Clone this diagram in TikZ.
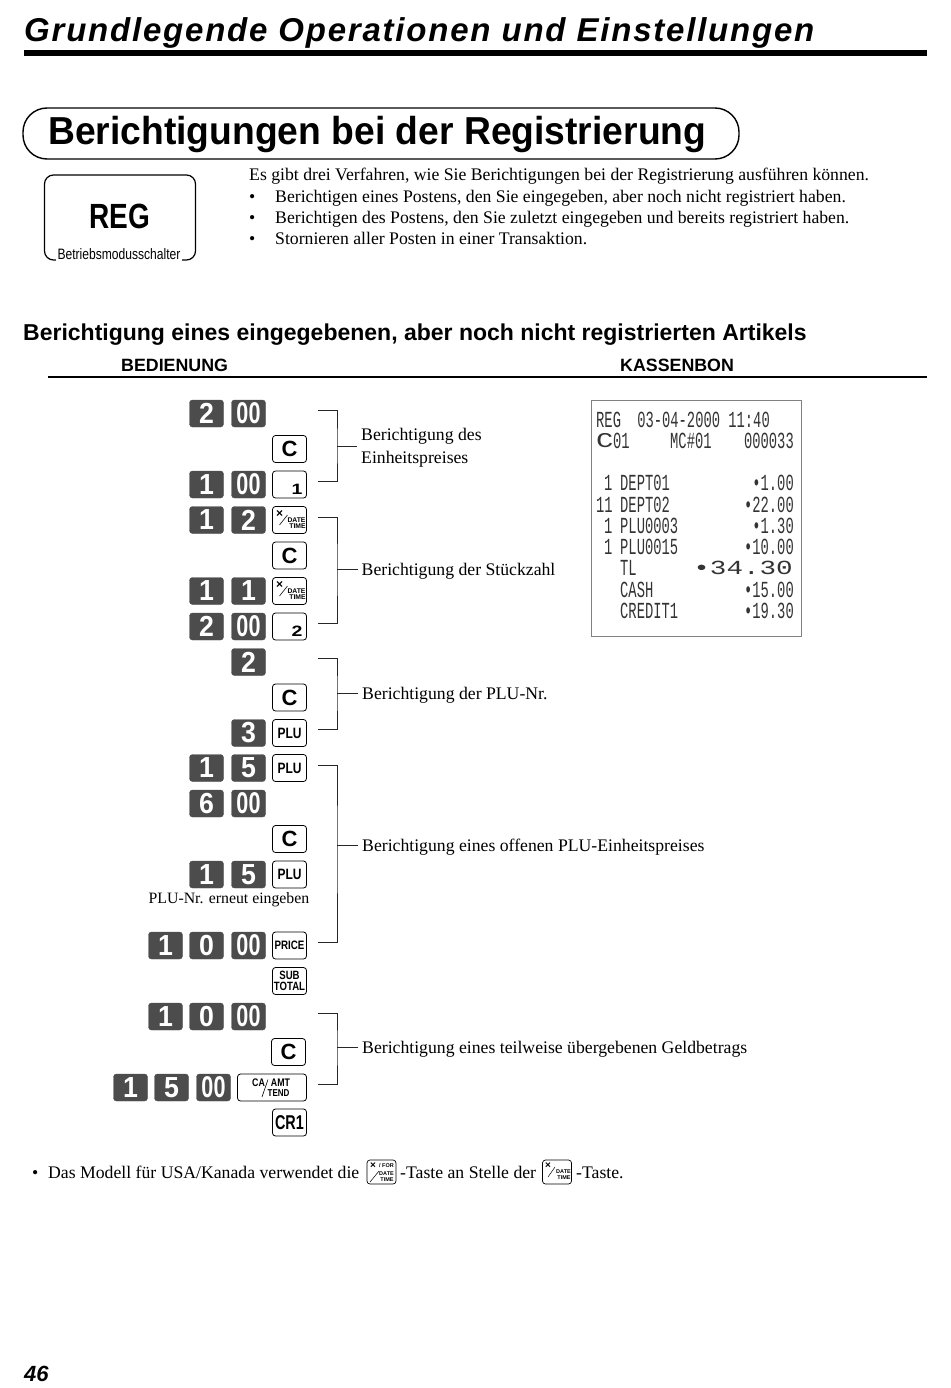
\documentclass[tikz,border=0pt]{standalone}
\usepackage{fontspec}
\setmainfont{Liberation Serif}
\setsansfont{Liberation Sans}
\usetikzlibrary{calc}
\newfontfamily\headfont[LetterSpace=5.4]{Liberation Sans}
\newfontfamily\titlefont[FakeStretch=0.955]{Liberation Sans}
\newfontfamily\digitfont[FakeStretch=0.92]{Liberation Sans}
\newfontfamily\narrowfont[FakeStretch=0.8]{Liberation Sans}
\newfontfamily\zerofont[FakeStretch=0.72]{Liberation Sans}
\newfontfamily\widefont[FakeStretch=1.3]{Liberation Sans}
\newfontfamily\slipfont[FakeStretch=0.6]{Liberation Mono}
\newfontfamily\slipwide[FakeStretch=1.38]{Liberation Mono}
\newcommand{\px}[1]{\fontsize{#1}{#1}\selectfont}
\definecolor{keydark}{gray}{0.30}
\definecolor{brack}{gray}{0.50}
\definecolor{slipink}{gray}{0.20}
\tikzset{
  numkey/.style={fill=keydark, draw=keydark, rounded corners=3pt, minimum width=34pt, minimum height=27pt,
                 inner sep=0pt, text=white, font=\digitfont\bfseries\px{29}},
  zerokey/.style={numkey, font=\zerofont\bfseries\px{30}},
  fnkey/.style={draw=black, line width=0.8pt, fill=white, rounded corners=3pt, minimum width=34pt,
                minimum height=27pt, inner sep=0pt, align=center, font=\sffamily\bfseries\px{22}},
  bodytxt/.style={anchor=base west, inner sep=0pt, font=\rmfamily\px{17.7}},
  cmt/.style={anchor=west, inner sep=4pt, align=left, text depth=0pt, font=\rmfamily\fontsize{17.7}{23}\selectfont},
  tiny/.style={inner sep=0pt, font=\sffamily\bfseries\px{6.8}},
  brk/.style={draw={black!85}, line width=0.8pt},
  slip/.style={anchor=base west, inner sep=0pt, text=slipink, font=\slipfont\px{23}},
  slipr/.style={slip, anchor=base east},
}
% key with x / date time printed on it
\newcommand{\xdatekey}[3]{
  \node[fnkey] (#1) at (#2,#3) {};
  \node[tiny, font=\sffamily\bfseries\px{12}] (#1x) at ($(#1.center)+(-10,-6)$) {\texttimes};
  \node[tiny] (#1d) at ($(#1.center)+(7,0)$) {DATE};
  \node[tiny] (#1t) at ($(#1.center)+(8,6.5)$) {TIME};
  \draw[line width=0.6pt] ($(#1.center)+(-2,-5)$) -- ($(#1.center)+(-10,5)$);
}
\begin{document}
\begin{tikzpicture}[x=1pt,y=-1pt]
  \useasboundingbox (0,0) rectangle (950,1388);

  % page head
  \node[anchor=base west, inner sep=0pt, font=\headfont\bfseries\itshape\px{33}] (head) at (24,42)
    {Grundlegende Operationen und Einstellungen};
  \fill (24,50) rectangle (927,56);
  \node[draw=black, line width=1.4pt, rounded corners=24pt, minimum width=716pt, minimum height=51pt,
        inner sep=0pt] (pill) at (381,133.5) {};
  \node[anchor=base west, inner sep=0pt, font=\titlefont\bfseries\px{39}] (title) at (48,145)
    {Berichtigungen bei der Registrierung};

  % mode switch
  \node[draw=black, line width=1.2pt, rounded corners=9pt, minimum width=151pt, minimum height=85pt,
        inner sep=0pt] (mode) at (120,217.5) {};
  \node[font=\narrowfont\bfseries\px{35}, inner sep=0pt] (reg) at (120,216) {REG};
  \node[fill=white, inner sep=2pt, font=\narrowfont\px{15.1}] (modetxt) at (119,254) {Betriebsmodusschalter};

  % intro
  \node[bodytxt] (intro) at (249,181) {Es gibt drei Verfahren, wie Sie Berichtigungen bei der Registrierung ausführen können.};
  \node[bodytxt] (dot1) at (249,202.5) {•};
  \node[bodytxt] (dot2) at (249,223.5) {•};
  \node[bodytxt] (dot3) at (249,244.5) {•};
  \node[bodytxt] (item1) at (275,202.5) {Berichtigen eines Postens, den Sie eingegeben, aber noch nicht registriert haben.};
  \node[bodytxt] (item2) at (275,223.5) {Berichtigen des Postens, den Sie zuletzt eingegeben und bereits registriert haben.};
  \node[bodytxt] (item3) at (275,244.5) {Stornieren aller Posten in einer Transaktion.};

  % section
  \node[anchor=base west, inner sep=0pt, font=\sffamily\bfseries\px{23}] (sect) at (23,340)
    {Berichtigung eines eingegebenen, aber noch nicht registrierten Artikels};
  \node[anchor=base west, inner sep=0pt, font=\sffamily\bfseries\px{17.8}] (oper) at (121,371) {BEDIENUNG};
  \node[anchor=base west, inner sep=0pt, font=\sffamily\bfseries\px{17.8}] (bon) at (620,371) {KASSENBON};
  \draw[line width=1.2pt] (48,377) -- (927,377);

  % keys
  \node[numkey] (a1) at (206.5,413.5) {2};
  \node[zerokey] (a2) at (248.5,413.5) {00};
  \node[fnkey] (a3) at (289.5,449) {C};
  \node[numkey] (b1) at (206.5,484.5) {1};
  \node[zerokey] (b2) at (248.5,484.5) {00};
  \node[fnkey] (b3) at (289.5,484.5) {};
  \node[inner sep=0pt, font=\widefont\bfseries\px{15}] (b3t) at (297,489.5) {1};
  \node[numkey] (c1) at (206.5,520) {1};
  \node[numkey] (c2) at (248.5,520) {2};
  \xdatekey{c3}{289.5}{520}
  \node[fnkey] (d3) at (289.5,555.5) {C};
  \node[numkey] (e1) at (206.5,591) {1};
  \node[numkey] (e2) at (248.5,591) {1};
  \xdatekey{e3}{289.5}{591}
  \node[numkey] (f1) at (206.5,626.5) {2};
  \node[zerokey] (f2) at (248.5,626.5) {00};
  \node[fnkey] (f3) at (289.5,626.5) {};
  \node[inner sep=0pt, font=\widefont\bfseries\px{15}] (f3t) at (297,631.5) {2};
  \node[numkey] (g2) at (248.5,662) {2};
  \node[fnkey] (h3) at (289.5,697.5) {C};
  \node[numkey] (i2) at (248.5,733) {3};
  \node[fnkey, font=\narrowfont\bfseries\px{15}] (i3) at (289.5,733) {PLU};
  \node[numkey] (j1) at (206.5,768) {1};
  \node[numkey] (j2) at (248.5,768) {5};
  \node[fnkey, font=\narrowfont\bfseries\px{15}] (j3) at (289.5,768) {PLU};
  \node[numkey] (k1) at (206.5,803.5) {6};
  \node[zerokey] (k2) at (248.5,803.5) {00};
  \node[fnkey] (l3) at (289.5,839) {C};
  \node[numkey] (m1) at (206.5,874.5) {1};
  \node[numkey] (m2) at (248.5,874.5) {5};
  \node[fnkey, font=\narrowfont\bfseries\px{15}] (m3) at (289.5,874.5) {PLU};
  \node[font=\rmfamily\px{15.8}, inner sep=0pt] (again) at (229,900) {PLU-Nr. erneut eingeben};
  \node[numkey] (n0) at (165.5,945.5) {1};
  \node[numkey] (n1) at (206.5,945.5) {0};
  \node[zerokey] (n2) at (248.5,945.5) {00};
  \node[fnkey, font=\narrowfont\bfseries\px{12.2}] (n3) at (289.5,945.5) {PRICE};
  \node[fnkey, font=\narrowfont\bfseries\fontsize{12}{10.5}\selectfont] (o3) at (289.5,981) {SUB\\TOTAL};
  \node[numkey] (p0) at (165.5,1016.5) {1};
  \node[numkey] (p1) at (206.5,1016.5) {0};
  \node[zerokey] (p2) at (248.5,1016.5) {00};
  \node[fnkey] (q3) at (288.5,1052) {C};
  \node[numkey] (r0) at (130.5,1087.5) {1};
  \node[numkey] (r1) at (171.5,1087.5) {5};
  \node[zerokey] (r2) at (213.5,1087.5) {00};
  \node[fnkey, minimum width=69pt] (r3) at (272,1087.5) {};
  \node[tiny, font=\narrowfont\bfseries\px{11}] (r3a) at (258.5,1083) {CA};
  \node[tiny, font=\narrowfont\bfseries\px{11}] (r3b) at (280.5,1083) {AMT};
  \node[tiny, font=\narrowfont\bfseries\px{10}] (r3c) at (278.5,1093.5) {TEND};
  \draw[line width=0.6pt] ($(r3.center)+(-4,-8)$) -- ($(r3.center)+(-10,9.5)$);
  \node[fnkey, font=\zerofont\bfseries\px{20}] (s3) at (289.5,1122.5) {CR1};

  % brackets
  \coordinate (br1a) at (318,410);
  \coordinate (br1b) at (318,481);
  \coordinate (br1m) at (337,446);
  \node[cmt] (lb1) at (357,446) {Berichtigung des\\Einheitspreises};
  \draw[brk] (br1a) -| (br1m) |- (br1b);
  \draw[brk] (br1m) -- (lb1.west);
  \coordinate (br2a) at (318,517);
  \coordinate (br2b) at (318,623);
  \coordinate (br2m) at (337,569);
  \node[cmt] (lb2) at (357.5,569) {Berichtigung der Stückzahl};
  \draw[brk] (br2a) -| (br2m) |- (br2b);
  \draw[brk] (br2m) -- (lb2.west);
  \coordinate (br3a) at (318,658);
  \coordinate (br3b) at (318,729);
  \coordinate (br3m) at (337,693);
  \node[cmt] (lb3) at (358,693) {Berichtigung der PLU-Nr.};
  \draw[brk] (br3a) -| (br3m) |- (br3b);
  \draw[brk] (br3m) -- (lb3.west);
  \coordinate (br4a) at (318,765);
  \coordinate (br4b) at (318,942);
  \coordinate (br4m) at (337,845);
  \node[cmt] (lb4) at (358,845) {Berichtigung eines offenen PLU-Einheitspreises};
  \draw[brk] (br4a) -| (br4m) |- (br4b);
  \draw[brk] (br4m) -- (lb4.west);
  \coordinate (br5a) at (318,1013);
  \coordinate (br5b) at (318,1084);
  \coordinate (br5m) at (337,1047);
  \node[cmt] (lb5) at (358,1047) {Berichtigung eines teilweise übergebenen Geldbetrags};
  \draw[brk] (br5a) -| (br5m) |- (br5b);
  \draw[brk] (br5m) -- (lb5.west);

  % receipt
  \node[draw=brack, line width=0.8pt, minimum width=210pt, minimum height=236pt, inner sep=0pt] (slipbox) at (696,518) {};
  \node[slip] (s1) at (596,427) {REG};
  \node[slipr] (s1r) at (770,427) {03-04-2000 11:40};
  \node[slip, font=\slipwide\px{21}] (s2c) at (596,447) {C};
  \node[slip] (s2) at (613,448) {01};
  \node[slip] (s2m) at (670,448) {MC\#01};
  \node[slipr] (s2r) at (794,448) {000033};
  \node[slip] (s3a) at (604,490) {1};
  \node[slip] (s3b) at (620,490) {DEPT01};
  \node[slipr] (s3r) at (794,490) {•1.00};
  \node[slip] (s4a) at (596,512) {11};
  \node[slip] (s4b) at (620,512) {DEPT02};
  \node[slipr] (s4r) at (794,512) {•22.00};
  \node[slip] (s5a) at (604,533) {1};
  \node[slip] (s5b) at (620,533) {PLU0003};
  \node[slipr] (s5r) at (794,533) {•1.30};
  \node[slip] (s6a) at (604,554) {1};
  \node[slip] (s6b) at (620,554) {PLU0015};
  \node[slipr] (s6r) at (794,554) {•10.00};
  \node[slip] (s7b) at (620,575) {TL};
  \node[slipr, font=\slipwide\px{20}] (s7r) at (793,574) {•34.30};
  \node[slip] (s8b) at (620,597) {CASH};
  \node[slipr] (s8r) at (794,597) {•15.00};
  \node[slip] (s9b) at (620,618) {CREDIT1};
  \node[slipr] (s9r) at (794,618) {•19.30};

  % foot note
  \node[bodytxt] (fdot) at (32,1178) {•};
  \node[bodytxt] (ftxt1) at (48,1178) {Das Modell für USA/Kanada verwendet die};
  \node[fnkey, minimum width=29pt, minimum height=24pt, line width=0.7pt] (fk1) at (381.5,1172) {};
  \node[tiny, font=\sffamily\bfseries\px{10}] (fk1x) at (373,1165.5) {\texttimes};
  \node[tiny, font=\sffamily\bfseries\px{5.5}] (fk1f) at (386.5,1165.5) {/ FOR};
  \node[tiny, font=\sffamily\bfseries\px{5.5}] (fk1d) at (386.5,1174) {DATE};
  \node[tiny, font=\sffamily\bfseries\px{5.5}] (fk1t) at (387,1180) {TIME};
  \draw[line width=0.5pt] (379,1171) -- (370,1182);
  \node[bodytxt] (ftxt2) at (400,1178) {-Taste an Stelle der};
  \node[fnkey, minimum width=29pt, minimum height=24pt, line width=0.7pt] (fk2) at (557,1172) {};
  \node[tiny, font=\sffamily\bfseries\px{10}] (fk2x) at (548,1166) {\texttimes};
  \node[tiny, font=\sffamily\bfseries\px{5.5}] (fk2d) at (563.5,1171.5) {DATE};
  \node[tiny, font=\sffamily\bfseries\px{5.5}] (fk2t) at (564,1177.5) {TIME};
  \draw[line width=0.5pt] (555,1167) -- (548,1177);
  \node[bodytxt] (ftxt3) at (576,1178) {-Taste.};
  \node[anchor=base west, inner sep=0pt, font=\sffamily\bfseries\itshape\px{22}] (pageno) at (24,1381) {46};
\end{tikzpicture}
\end{document}
